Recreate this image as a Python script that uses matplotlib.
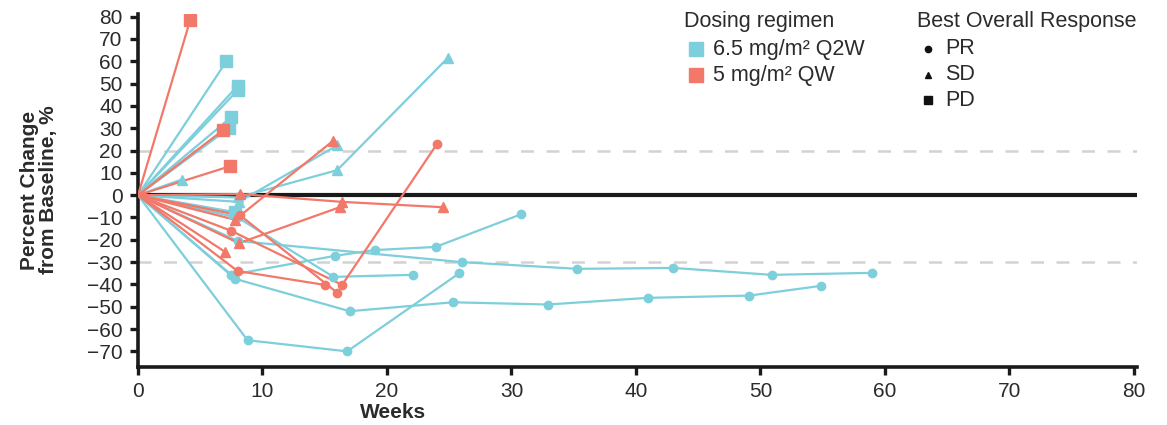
import matplotlib
matplotlib.use("Agg")
import matplotlib.pyplot as plt
from matplotlib.lines import Line2D

plt.rcParams['font.family'] = ['Liberation Sans', 'DejaVu Sans']

BLUE = '#7CCFDB'
RED = '#F2786A'
TXT = '#2B2B2B'

# ---- data: one entry per patient ----
regimen = ['Q2W'] * 14 + ['QW'] * 10
response = (['PD'] * 6 + ['SD'] * 3 + ['PR'] * 5 +
            ['PD'] * 3 + ['SD'] * 4 + ['PR'] * 3)
weeks = [
    [0, 7.1], [0, 8.0], [0, 8.0], [0, 7.5], [0, 7.3], [0, 7.8],
    [0, 3.5], [0, 8.1, 16.0], [0, 8.0, 16.0, 24.9],
    [0, 8.8, 16.8, 25.8],
    [0, 7.8, 17.0, 25.3, 32.9, 41.0, 49.1, 54.9],
    [0, 7.5, 15.8, 19.0, 23.9, 30.8],
    [0, 8.0, 26.0, 35.3, 43.0, 50.9, 59.0],
    [0, 8.0, 15.7, 22.1],
    [0, 4.2], [0, 6.8], [0, 7.4],
    [0, 8.2, 16.4, 24.5], [0, 8.1, 16.2], [0, 7.0], [0, 7.8, 15.7],
    [0, 7.5, 16.4, 24.0], [0, 8.0, 15.0], [0, 8.2, 16.0],
]
pct = [
    [0, 60], [0, 49], [0, 47], [0, 35], [0, 30], [0, -7.6],
    [0, 7], [0, -3, 22.3], [0, -1, 11.2, 61.6],
    [0, -65, -70, -35],
    [0, -37.5, -52, -48, -49, -46, -45, -40.6],
    [0, -35.7, -27.2, -24.6, -23.2, -8.5],
    [0, -20.5, -30, -33, -32.6, -35.7, -34.8],
    [0, -10, -36.6, -35.7],
    [0, 78.6], [0, 29], [0, 13],
    [0, 0.5, -3, -5.4], [0, -21.5, -5.4], [0, -25.4], [0, -11, 24.5],
    [0, -16, -40.2, 22.8], [0, -34, -40.2], [0, -9, -43.7],
]
xticks = list(range(0, 81, 10))
yticks = list(range(-70, 81, 10))
thresholds = [20, -30]

colors = {'Q2W': BLUE, 'QW': RED}
markers = {'PR': 'o', 'SD': '^', 'PD': 's'}
msizes = {'PR': 6, 'SD': 7, 'PD': 8}

fig = plt.figure(figsize=(11.67, 4.25), dpi=100)
ax = fig.add_axes([138 / 1167, 1 - 367 / 425, 999 / 1167, 353 / 425])
ax.set_xlim(0, 80.25)
ax.set_ylim(-77, 81.2)

for t in thresholds:
    ax.axhline(t, color='#D2D2D2', lw=1.8, dashes=(5.2, 5), zorder=1)
ax.axhline(0, color='#1A1A1A', lw=3, zorder=2)

order = [i for i in range(len(weeks)) if regimen[i] == 'Q2W'] + \
        [i for i in range(len(weeks)) if regimen[i] == 'QW']
for i in order:
    c = colors[regimen[i]]
    m = markers[response[i]]
    ax.plot(weeks[i], pct[i], color=c, lw=1.6, zorder=3)
    ax.plot(weeks[i][1:], pct[i][1:], color=c, lw=0, marker=m,
            markersize=msizes[response[i]], zorder=4)

for s in ['top', 'right']:
    ax.spines[s].set_visible(False)
for s in ['left', 'bottom']:
    ax.spines[s].set_linewidth(2.6)
    ax.spines[s].set_color('#1A1A1A')
ax.set_xticks(xticks)
ax.set_yticks(yticks)
ax.tick_params(axis='both', width=2.4, length=6, color='#1A1A1A',
               labelsize=15, labelcolor=TXT)
ax.tick_params(axis='y', pad=5)
ax.tick_params(axis='x', pad=5)

# axis labels
fig.text(393 / 1167, 1 - 412 / 425, 'Weeks', ha='center', va='center',
         fontsize=15, fontweight='bold', color=TXT)
fig.text(39 / 1167, 1 - 190 / 425, 'Percent Change\nfrom Baseline, %',
         ha='center', va='center', rotation=90, fontsize=15,
         fontweight='bold', color=TXT, linespacing=1.05)

# legends
def fy(py):
    return 1 - py / 425

fig.text(684 / 1167, fy(22), 'Dosing regimen', ha='left', va='center',
         fontsize=15.5, color=TXT)
for lab, c, py in [('6.5 mg/m² Q2W', BLUE, 49), ('5 mg/m² QW', RED, 75)]:
    fig.add_artist(Line2D([696 / 1167], [fy(py)], marker='s', color=c,
                          markersize=9.5, lw=0, transform=fig.transFigure))
    fig.text(713 / 1167, fy(py), lab, ha='left', va='center',
             fontsize=15.5, color=TXT)

fig.text(917 / 1167, fy(22), 'Best Overall Response', ha='left',
         va='center', fontsize=15.5, color=TXT)
for lab, m, ms, py in [('PR', 'o', 4.5, 49), ('SD', '^', 5, 75),
                       ('PD', 's', 5.5, 100)]:
    fig.add_artist(Line2D([928 / 1167], [fy(py)], marker=m, color='#111111',
                          markersize=ms, lw=0, transform=fig.transFigure))
    fig.text(945 / 1167, fy(py), lab, ha='left', va='center',
             fontsize=15.5, color=TXT)

fig.savefig('out.png', dpi=100)
